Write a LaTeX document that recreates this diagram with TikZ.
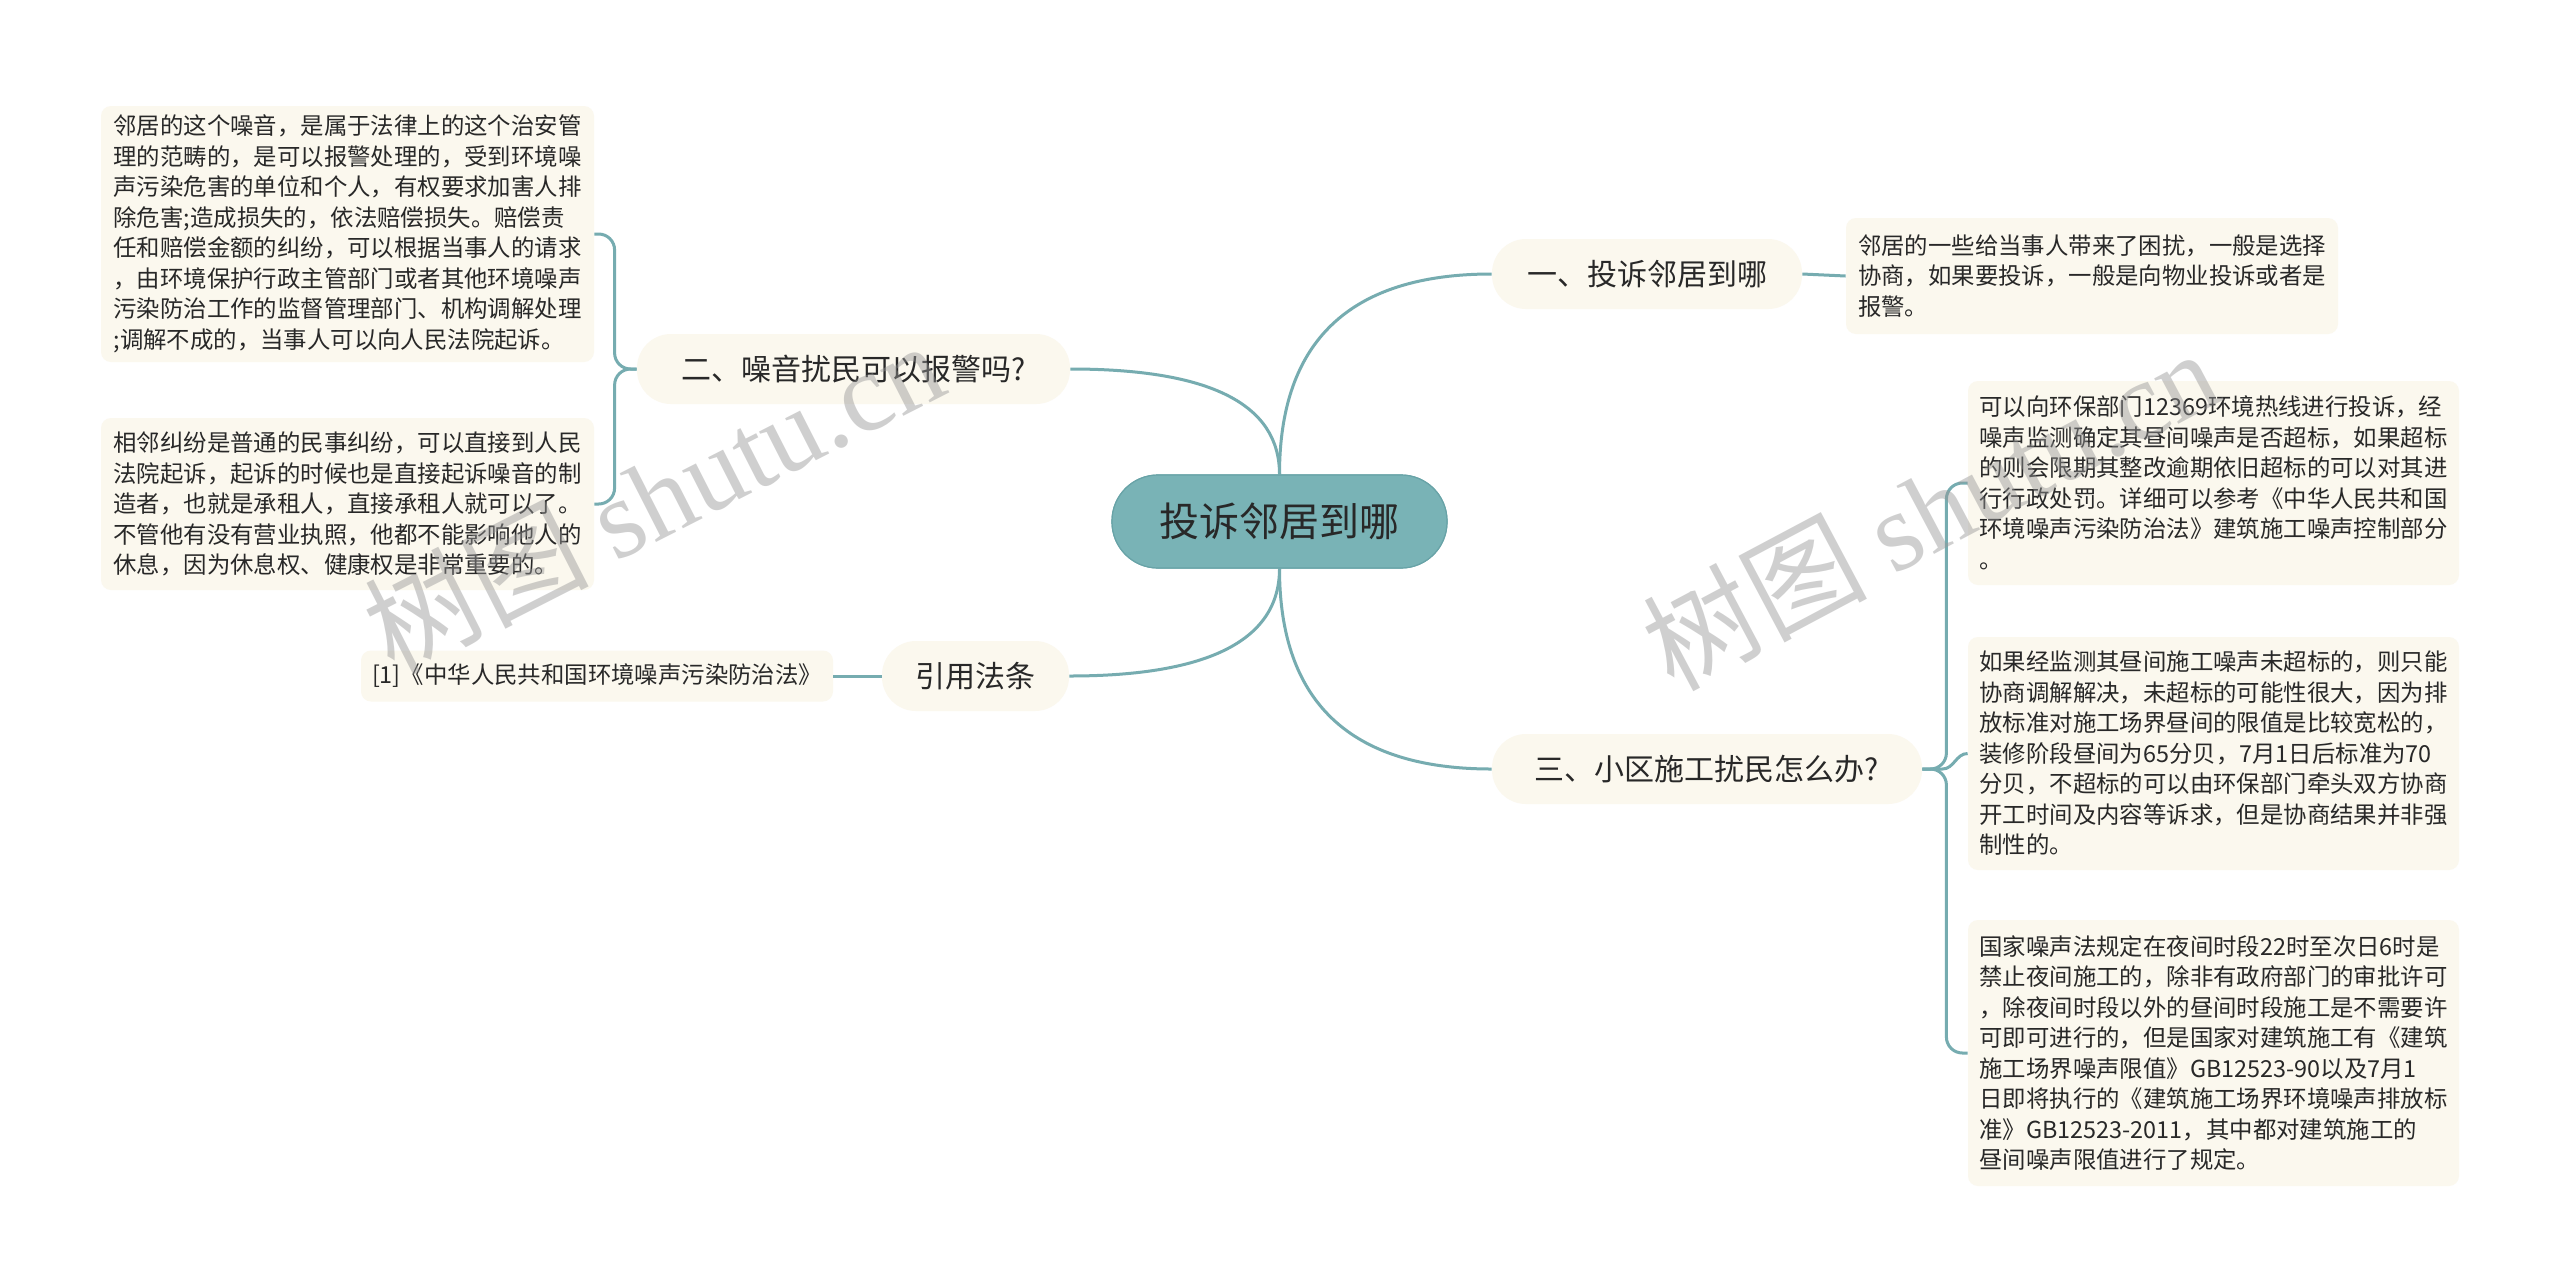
\documentclass[tikz,border=0pt]{standalone}
\usepackage{fontspec}
\setmainfont{Noto Sans CJK SC}
\newfontfamily\wmserif{Liberation Serif}
\setlength{\parindent}{0pt}
\definecolor{leafbg}{RGB}{251,248,238}
\definecolor{linec}{RGB}{118,172,176}
\definecolor{rootc}{RGB}{121,179,182}
\definecolor{rootd}{RGB}{104,163,167}
\definecolor{txt}{RGB}{40,40,40}
\definecolor{wm}{RGB}{150,150,150}
\begin{document}
\begin{tikzpicture}[x=0.5pt,y=-0.5pt,
  leaf/.style={fill=leafbg, rounded corners=5pt, align=left, inner sep=0pt, text=txt,
    font=\fontsize{11.7pt}{15.25pt}\selectfont},
  reflbl/.style={fill=leafbg, rounded corners=5pt, align=center, inner sep=0pt, text=txt,
    font=\fontsize{11.7pt}{15.25pt}\selectfont},
  branch/.style={fill=leafbg, rounded corners=17pt, inner sep=0pt, text=txt,
    minimum height=35pt, font=\fontsize{15pt}{18pt}\selectfont},
  root/.style={fill=rootc, draw=rootd, line width=0.6pt, rounded corners=23pt,
    minimum width=167.5pt, minimum height=46.5pt, inner sep=0pt, text=txt,
    font=\fontsize{20pt}{24pt}\selectfont},
  conn/.style={draw=linec, line width=1.5pt},
  wmark/.style={text=wm, text opacity=0.45, inner sep=0pt,
    font=\fontsize{56pt}{60pt}\selectfont}
]
\useasboundingbox (0,0) rectangle (2560,1286);
\fill[white] (0,0) rectangle (2560,1286);

% ---------- nodes ----------
\node[root] (root) at (1279.5,521.5) {投诉邻居到哪};

\node[branch, minimum width=155pt] (B1) at (1647,274) {一、投诉邻居到哪};
\node[branch, minimum width=216.5pt] (B2) at (853.5,369) {二、噪音扰民可以报警吗?};
\node[branch, minimum width=93.5pt] (BR) at (975.5,676) {引用法条};
\node[branch, minimum width=215pt] (B3) at (1707,769) {三、小区施工扰民怎么办?};

\node[reflbl, minimum width=236pt, minimum height=25.5pt] (Ref) at (597,676)
  {[1]《中华人民共和国环境噪声污染防治法》};

\node[leaf, minimum width=246.5pt, minimum height=128pt, text width=234pt] (L1) at (347.5,234)
  {邻居的这个噪音，是属于法律上的这个治安管\\
   理的范畴的，是可以报警处理的，受到环境噪\\
   声污染危害的单位和个人，有权要求加害人排\\
   除危害;造成损失的，依法赔偿损失。赔偿责\\
   任和赔偿金额的纠纷，可以根据当事人的请求\\
   ，由环境保护行政主管部门或者其他环境噪声\\
   污染防治工作的监督管理部门、机构调解处理\\
   ;调解不成的，当事人可以向人民法院起诉。};

\node[leaf, minimum width=246.5pt, minimum height=86pt, text width=234pt] (L2) at (347.5,504)
  {相邻纠纷是普通的民事纠纷，可以直接到人民\\
   法院起诉，起诉的时候也是直接起诉噪音的制\\
   造者，也就是承租人，直接承租人就可以了。\\
   不管他有没有营业执照，他都不能影响他人的\\
   休息，因为休息权、健康权是非常重要的。};

\node[leaf, minimum width=246pt, minimum height=58pt, text width=234pt] (R1) at (2092,276)
  {邻居的一些给当事人带来了困扰，一般是选择\\
   协商，如果要投诉，一般是向物业投诉或者是\\
   报警。};

\node[leaf, minimum width=245.5pt, minimum height=102pt, text width=234pt] (C31) at (2213.5,483)
  {可以向环保部门12369环境热线进行投诉，经\\
   噪声监测确定其昼间噪声是否超标，如果超标\\
   的则会限期其整改逾期依旧超标的可以对其进\\
   行行政处罚。详细可以参考《中华人民共和国\\
   环境噪声污染防治法》建筑施工噪声控制部分\\
   。};

\node[leaf, minimum width=245.5pt, minimum height=116.5pt, text width=234pt] (C32) at (2213.5,753.5)
  {如果经监测其昼间施工噪声未超标的，则只能\\
   协商调解解决，未超标的可能性很大，因为排\\
   放标准对施工场界昼间的限值是比较宽松的，\\
   装修阶段昼间为65分贝，7月1日后标准为70\\
   分贝，不超标的可以由环保部门牵头双方协商\\
   开工时间及内容等诉求，但是协商结果并非强\\
   制性的。};

\node[leaf, minimum width=245.5pt, minimum height=133pt, text width=234pt] (C33) at (2213.5,1053)
  {国家噪声法规定在夜间时段22时至次日6时是\\
   禁止夜间施工的，除非有政府部门的审批许可\\
   ，除夜间时段以外的昼间时段施工是不需要许\\
   可即可进行的，但是国家对建筑施工有《建筑\\
   施工场界噪声限值》GB12523-90以及7月1\\
   日即将执行的《建筑施工场界环境噪声排放标\\
   准》GB12523-2011，其中都对建筑施工的\\
   昼间噪声限值进行了规定。};

% ---------- connectors ----------
\begin{scope}[on background layer/.style={}]
\draw[conn] (root.north) .. controls (1279.5,341) and (1350,274) .. (B1.west);
\draw[conn] (root.north) .. controls (1279.5,404) and (1210,369) .. (B2.east);
\draw[conn] (root.south) .. controls (1279.5,640) and (1209,676) .. (BR.east);
\draw[conn] (root.south) .. controls (1279.5,702) and (1350,769) .. (B3.west);

\draw[conn] (B1.east) -- (R1.west);
\draw[conn] (BR.west) -- (Ref.east);

\draw[conn, rounded corners=8pt] (B2.west) -- ++(-11pt,0) |- (L1.east);
\draw[conn, rounded corners=8pt] (B2.west) -- ++(-11pt,0) |- (L2.east);

\draw[conn, rounded corners=8pt] (B3.east) -- ++(12pt,0) |- (C31.west);
\draw[conn] (B3.east) -- ++(10pt,0) to[out=0,in=180] (C32.west);
\draw[conn, rounded corners=8pt] (B3.east) -- ++(12pt,0) |- (C33.west);
\end{scope}

% redraw root on top of connector ends
\node[root] at (1279.5,521.5) {投诉邻居到哪};

% ---------- watermarks ----------
\node[wmark, rotate=27] (wm1) at (653,496) {树图 {\wmserif shutu.cn}};
\node[wmark, rotate=28] (wm2) at (1930,508) {树图 {\wmserif shutu.cn}};
\end{tikzpicture}
\end{document}
